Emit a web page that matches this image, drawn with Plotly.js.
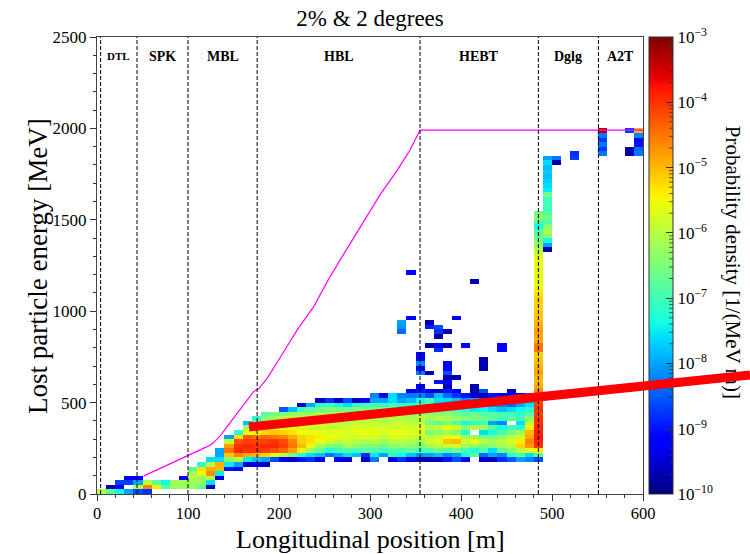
<!DOCTYPE html>
<html>
<head>
<meta charset="utf-8">
<script src="https://cdn.plot.ly/plotly-3.0.1.min.js"></script>
<style>html,body{margin:0;padding:0;background:#fff;}#chart{width:750px;height:554px;}</style>
</head>
<body>
<div id="chart"></div>
<script>
// ---------------- data ----------------
const chartTitle = '2% & 2 degrees';
const xTitle = 'Longitudinal position [m]';
const yTitle = 'Lost particle energy [MeV]';
const cbTitle = 'Probability density [1/(MeV m)]';
const sectionNames = ['DTL', 'SPK', 'MBL', 'HBL', 'HEBT', 'Dglg', 'A2T'];
const sectionEdges = [4, 44, 100, 176, 355, 485, 551, 600];

// histogram binning (10 m x 25 MeV)
const binWidthM = 10;
const binHeightMeV = 25;
const nCols = 60;
const nRows = 100;

// beam energy along the linac (MeV)
const energyX = [51, 73, 99, 110, 121, 128, 136, 143, 150, 158, 165, 172, 178, 187, 202, 220, 238, 256, 275, 293, 311, 330, 344, 355, 600];
const energyY = [98, 149, 208, 231, 259, 280, 322, 369, 414, 469, 514, 560, 578, 633, 752, 898, 1024, 1188, 1344, 1490, 1636, 1772, 1882, 1991, 1991];

// log10 of probability density, column by column (first energy bin index in colStart)
const colStart = [0,0,0,0,0,0,1,1,1,1, 1,1,1,3,5,5,6,6,6,6, 6,7,7,7,7,7,7,7,7,7, 7,7,7,7,7,7,7,7,7,7, 7,7,7,7,7,7,7,7,7,53];
const colVals = [
  [-6.0],
  [-6.8,-9.7],
  [-7.4,-9.1,-8.7],
  [-8.0,null,-8.7,-9.2],
  [-8.6,-6.0,-8.0,-9.2],
  [-8.8,-4.6,-6.0],
  [-5.4,-6.8],
  [-6.8,-7.4],
  [-6.2,-6.2],
  [-6.2,-6.2,-9.2],
  [-6.3,-6.2,-6.0,-6.2,-6.8],
  [-6.8,-6.2,-6.3,-5.5,-5.3,-7.2],
  [-9.6,-7.6,-6.0,-4.7,-4.9,-6.0,-7.6],
  [-9.5,-7.5,-5.0,-4.9,-7.6,-8.0,-8.0],
  [-9.0,-7.5,-6.4,-5.1,-4.5,-4.8,-5.9,-8.0],
  [-9.2,-8.0,-6.0,-4.6,-3.9,-4.0,-4.2,-5.3,-7.2],
  [-9.5,-7.5,-4.9,-4.0,-3.9,-4.1,-4.3,-5.6,-6.2,-7.8],
  [-9.3,-7.8,-5.0,-4.0,-4.0,-4.1,-4.5,-5.4,-5.9,-6.4,-7.2],
  [-9.6,-8.0,-5.2,-4.1,-3.9,-4.1,-4.4,-5.2,-5.8,-6.2,-6.4,-6.8],
  [null,-8.6,-5.6,-4.2,-3.9,-4.0,-4.5,-5.1,-5.7,-6.0,-6.2,-6.5],
  [null,-9.2,-6.0,-4.4,-4.1,-4.2,-4.6,-5.2,-5.6,-5.9,-6.0,-6.5,-8.5],
  [-9.5,-6.5,-4.8,-4.5,-4.6,-4.9,-5.3,-5.6,-5.9,-6.0,-6.3,-7.8],
  [-9.0,-7.3,-5.4,-5.0,-5.2,-5.2,-5.5,-5.7,-5.9,-6.0,-6.2,-7.0,-9.5],
  [-8.8,-7.6,-6.2,-5.6,-5.3,-5.3,-5.6,-5.8,-5.9,-6.0,-6.2,-6.8,-8.0],
  [-9.4,-7.8,-6.7,-6.2,-5.6,-5.4,-5.6,-5.8,-5.9,-6.0,-6.1,-6.6,-7.2,-9.6],
  [null,-8.3,-7.2,-6.5,-5.8,-5.5,-5.7,-5.9,-6.0,-6.0,-6.2,-6.5,-7.0,-8.8],
  [-9.2,-8.0,-7.0,-6.6,-6.0,-5.6,-5.6,-5.8,-6.0,-6.1,-6.2,-6.5,-7.4,-9.6],
  [-9.6,-7.6,-6.8,-6.2,-5.9,-5.7,-5.7,-5.8,-6.0,-6.1,-6.3,-6.6,-7.6,-8.6],
  [null,-7.8,-7.0,-6.4,-6.0,-5.8,-5.6,-5.7,-5.9,-6.0,-6.2,-6.5,-7.2,-9.6],
  [-9.6,-8.8,-6.8,-6.5,-6.1,-5.7,-5.6,-5.7,-5.9,-6.0,-6.2,-6.6,-7.0,-9.2],
  [-8.3,-7.5,-6.9,-6.5,-6.0,-5.8,-5.6,-5.7,-5.9,-6.1,-6.3,-6.6,-7.0,-8.0,-8.2],
  [null,-8.0,-7.0,-6.6,-6.2,-5.9,-5.7,-5.8,-6.0,-6.1,-6.2,-6.5,-7.2,-8.0,-9.2],
  [-9.4,-7.2,-6.8,-6.4,-6.0,-5.8,-5.6,-5.8,-5.9,-6.0,-6.2,-6.6,-7.0,-7.6,-7.6],
  [-8.8,-7.4,-6.9,-6.3,-6.0,-5.7,-5.6,-5.7,-5.9,-6.0,-6.2,-6.5,-7.2,-8.0,-8.2],
  [-9.4,-7.8,-6.8,-6.4,-6.1,-5.8,-5.7,-5.8,-6.0,-6.1,-6.3,-6.6,-7.1,-7.8,-8.3,-9.3],
  [-9.7,-8.1,-7.0,-6.5,-6.2,-5.9,-5.6,-5.7,-5.9,-6.0,-6.2,-6.5,-7.0,-7.4,-8.2,-9.0],
  [-9.7,-8.0,-6.9,-6.2,-5.8,-6.0,-6.5,-6.0,-6.6,-6.2,-6.3,-6.8,-7.2,-7.0,-8.6,-9.4],
  [-9.6,-7.8,-6.6,-6.0,-5.7,-5.8,-6.4,-5.9,-6.8,-6.0,-6.4,-6.8,-7.4,-7.6,-7.8,-9.6],
  [-9.0,-8.2,-6.8,-5.9,-5.1,-5.6,-6.2,-5.6,-6.5,-6.2,-6.4,-6.9,-7.0,-7.6,-8.4,-9.0],
  [-8.6,-8.0,-6.6,-5.8,-5.0,-5.5,-6.5,-5.8,-6.9,-6.3,-6.6,-7.0,-7.4,-7.8,-8.8,-9.2],
  [-9.2,-7.4,-7.0,-6.2,-5.8,-6.2,-7.2,-6.3,-7.4,-6.4,-6.8,-7.2,-7.6,-8.2,-9.0,null],
  [null,-6.8,-7.3,-6.4,-5.5,-6.3,null,-6.0,-7.2,-6.5,-6.6,-7.5,-7.8,-8.0,-9.5,-9.7],
  [-9.5,-8.4,-6.9,-6.5,-6.0,-6.6,-7.6,-6.2,-7.0,-6.6,-6.9,-7.4,-8.0,-8.6,-9.7,-8.6],
  [-9.6,-8.0,-7.6,-6.4,-6.2,-6.5,-7.4,-6.8,-8.0,-6.8,-6.8,-7.6,-8.0,-8.4,-9.0,null],
  [-8.8,-8.2,-6.7,-6.2,-6.0,-6.3,-7.0,-7.3,-8.2,-7.0,-6.9,-7.8,-8.2,-8.6,-9.4,null],
  [-8.5,-7.2,-6.4,-6.0,-5.7,-6.0,-6.6,-7.0,null,-6.8,-7.0,-7.6,-8.4,-8.8,-9.2,-9.6],
  [-8.0,-6.8,-6.0,-5.2,-5.4,-5.8,-6.2,-7.2,-7.6,-7.0,-7.2,-7.4,-8.0,-8.4,-9.2,null],
  [-8.2,-7.6,-5.6,-4.8,-4.6,-4.9,-5.0,-5.4,-6.0,-6.4,-6.8,-7.2,-7.6,-8.0,-8.4,null],
  [-8.6,-6.8,-5.4,-4.0,-3.9,-3.8,-3.9,-3.9,-4.0,-4.0,-4.1,-4.0,-4.1,-4.2,-4.3,-4.6,
   -4.9,-5.0,-5.0,-4.8,-4.9,-5.0,-5.1,-5.2,-4.5,-4.5,-4.9,-4.9,-4.8,-4.9,-5.0,-5.1,
   -5.1,-5.2,-5.2,-5.2,-5.3,-5.4,-5.5,-5.6,-5.5,-5.6,-5.6,-5.5,-5.6,-5.9,-6.0,-6.3,
   -6.4,-6.8,-6.9,-7.4,-6.9,-6.4,-6.5],
  [-9.7,-8.0,-7.4,-6.4,-6.1,-6.4,-6.9,-6.5,-6.9,-7.0,-7.0,-7.0,-6.6,-7.5,-7.6,-7.7,-7.8,-7.7,-7.8,-7.6,-8.0]
];

// isolated cells: column index, energy-bin index, log10 density
const spCol = [34,41,34,33,33,33,36,36,37,37,38,37,39,36,37,38,37,40,44,44,35,35,35,35,35,36,38,38,38,38,39,42,42,42,41,35,37,38,38,
               50,50,52,52,55,55,55,55,55,55,58,58,58,59,59,59,59,59,59];
const spRow = [48,46,38,37,36,35,37,36,36,35,35,34,38,32,32,32,31,32,31,32,30,29,28,27,26,26,28,27,26,25,25,29,28,27,23,23,24,24,23,
               73,72,73,74,74,75,76,77,78,79,79,74,75,74,75,76,77,78,79];
const spVal = [-9.1,-9.7,-9.1,-8.0,-8.1,-8.4,-9.7,-8.9,-8.6,-8.8,-9.7,-9.7,-9.1,-9.7,-9.1,-9.7,-8.8,-9.1,-9.1,-9.1,-9.1,-9.1,-8.2,-9.1,-8.3,-9.7,-9.1,-9.1,-8.6,-9.7,-9.7,-9.7,-9.7,-9.7,-9.7,-9.1,-9.0,-9.1,-9.6,
               -8.3,-9.7,-8.7,-8.8,-8.3,-8.7,-8.3,-8.7,-8.3,-3.3,-8.7,-9.7,-9.7,-8.3,-8.4,-9.0,-9.1,-8.2,-5.0];

// thick red overlay line (data units: m, MeV)
const redLineX = [167, 717.6];
const redLineY = [366.5, 651];

const cbDecades = [-10, -9, -8, -7, -6, -5, -4, -3];

// ---------------- build ----------------
const xCenters = [], yCenters = [];
for (let i = 0; i < nCols; i++) xCenters.push(binWidthM * (i + 0.5));
for (let j = 0; j < nRows; j++) yCenters.push(binHeightMeV * (j + 0.5));
const z = [];
for (let j = 0; j < nRows; j++) z.push(new Array(nCols).fill(null));
colVals.forEach((vals, i) => {
  vals.forEach((v, k) => { if (v !== null) z[colStart[i] + k][i] = v; });
});
spCol.forEach((c, k) => { z[spRow[k]][c] = spVal[k]; });

function jetColor(t) {
  const seg = pts => {
    for (let k = 0; k < pts.length - 1; k++) {
      const [x0, v0] = pts[k], [x1, v1] = pts[k + 1];
      if (t <= x1) return v0 + (v1 - v0) * (t - x0) / (x1 - x0);
    }
    return pts[pts.length - 1][1];
  };
  const r = seg([[0,0],[0.35,0],[0.66,1],[0.89,1],[1,0.5]]);
  const g = seg([[0,0],[0.125,0],[0.375,1],[0.64,1],[0.91,0],[1,0]]);
  const b = seg([[0,0.5],[0.11,1],[0.34,1],[0.65,0],[1,0]]);
  return 'rgb(' + Math.round(r*255) + ',' + Math.round(g*255) + ',' + Math.round(b*255) + ')';
}
const jet = [];
for (let k = 0; k <= 200; k++) jet.push([k / 200, jetColor(k / 200)]);

const cbTickText = cbDecades.map(d => '10<sup>\u2212' + (-d) + '</sup>');

const FONT = 'Liberation Serif, DejaVu Serif, serif';
const xr = [0, 600], yr = [0, 2500];
const zr = [cbDecades[0], cbDecades[cbDecades.length - 1]];

// colour bar geometry (paper units)
const cbX = 1.011, cbThickPx = 24, plotWpx = 546;
const cbRight = cbX + cbThickPx / plotWpx;

const heat = {
  type: 'heatmap', x: xCenters, y: yCenters, z: z,
  colorscale: jet, zmin: zr[0], zmax: zr[1], zsmooth: false, hoverinfo: 'skip',
  colorbar: {
    x: cbX, xanchor: 'left', xref: 'paper', y: 0.5, yanchor: 'middle',
    len: 1, lenmode: 'fraction', thickness: cbThickPx, thicknessmode: 'pixels',
    xpad: 0, ypad: 0, outlinewidth: 1, outlinecolor: '#333',
    tickmode: 'array', tickvals: cbDecades, ticktext: cbTickText,
    ticks: 'inside', ticklen: 7, tickcolor: '#333', tickwidth: 1,
    tickfont: { family: FONT, size: 17, color: '#000' }
  }
};
const energyTrace = {
  type: 'scatter', mode: 'lines', x: energyX, y: energyY,
  line: { color: '#ff00ff', width: 1.2 }, hoverinfo: 'skip', showlegend: false
};

const shapes = [];
sectionEdges.slice(0, -1).forEach(e => {
  shapes.push({ type: 'line', xref: 'x', yref: 'paper', x0: e, x1: e, y0: 0, y1: 1,
    line: { color: '#000', width: 1, dash: '4px,2px' } });
});
// minor ticks of the colour bar
cbDecades.slice(0, -1).forEach(d => {
  for (let m = 2; m <= 9; m++) {
    const yy = (d + Math.log10(m) - zr[0]) / (zr[1] - zr[0]);
    shapes.push({ type: 'line', xref: 'paper', yref: 'paper', x0: cbRight - 4 / plotWpx, x1: cbRight,
      y0: yy, y1: yy, line: { color: '#333', width: 0.8 } });
  }
});
shapes.push({ type: 'line', xref: 'paper', yref: 'paper',
  x0: (redLineX[0] - xr[0]) / (xr[1] - xr[0]), y0: (redLineY[0] - yr[0]) / (yr[1] - yr[0]),
  x1: (redLineX[1] - xr[0]) / (xr[1] - xr[0]), y1: (redLineY[1] - yr[0]) / (yr[1] - yr[0]),
  line: { color: '#ff0000', width: 9 } });

const annotations = [];
sectionNames.forEach((n, k) => {
  annotations.push({ xref: 'x', yref: 'paper', x: (sectionEdges[k] + sectionEdges[k + 1]) / 2, y: 0.958,
    text: '<b>' + n + '</b>', showarrow: false, xanchor: 'center', yanchor: 'middle',
    font: { family: FONT, size: n === 'DTL' ? 11 : 14, color: '#000' } });
});
annotations.push({ xref: 'paper', yref: 'paper', x: 1.165, y: 0.508, textangle: 90,
  text: cbTitle, showarrow: false, xanchor: 'center', yanchor: 'middle',
  font: { family: FONT, size: 21, color: '#000' } });
annotations.push({ xref: 'paper', yref: 'paper', x: 0.5, y: -0.0656, borderpad: 0,
  text: xTitle, showarrow: false, xanchor: 'center', yanchor: 'top',
  font: { family: FONT, size: 26, color: '#000' } });
annotations.push({ xref: 'paper', yref: 'paper', x: -0.109, y: 0.5, textangle: -90,
  text: yTitle, showarrow: false, xanchor: 'center', yanchor: 'middle',
  font: { family: FONT, size: 27, color: '#000' } });

const axisCommon = {
  showgrid: false, zeroline: false, showline: true, mirror: true, linecolor: '#444', linewidth: 1,
  ticks: 'outside', ticklen: 6, tickwidth: 1, tickcolor: '#333',
  tickfont: { family: FONT, size: 17, color: '#000' }
};
const layout = {
  width: 750, height: 554,
  margin: { l: 97, r: 107, t: 37, b: 60 },
  paper_bgcolor: '#fff', plot_bgcolor: '#fff',
  font: { family: FONT, color: '#000' },
  showlegend: false,
  title: { text: chartTitle, xref: 'paper', x: 0.5, yref: 'container', y: 0.968, yanchor: 'middle',
    font: { family: FONT, size: 23, color: '#000' } },
  xaxis: Object.assign({}, axisCommon, { range: xr, dtick: 100, tick0: 0, ticklabelstandoff: -2,
    tickfont: { family: FONT, size: 16.5, color: '#000' },
    minor: { dtick: 20, ticks: 'outside', ticklen: 3, tickcolor: '#333' } }),
  yaxis: Object.assign({}, axisCommon, { range: yr, dtick: 500, tick0: 0,
    minor: { dtick: 100, ticks: 'outside', ticklen: 3, tickcolor: '#333' } }),
  shapes: shapes, annotations: annotations
};

Plotly.newPlot('chart', [heat, energyTrace], layout, { staticPlot: true, displayModeBar: false })
  .then(gd => {
    // keep the overlay lines on top of the colour bar, as in the original figure
    const svgs = gd.querySelectorAll('svg.main-svg');
    const upper = gd.querySelector('.layer-above .shapelayer');
    if (svgs.length > 1 && upper) svgs[svgs.length - 1].appendChild(upper);
  });
</script>
</body>
</html>
